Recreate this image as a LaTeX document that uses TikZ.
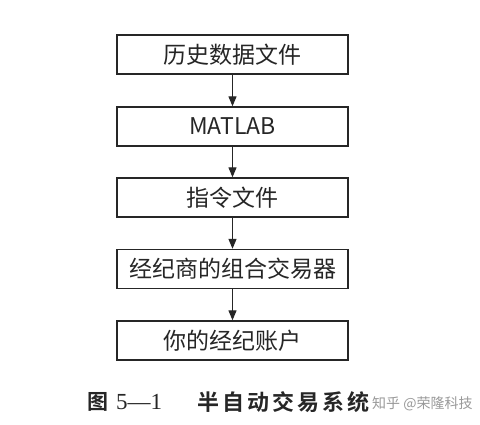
\documentclass[tikz,border=0pt]{standalone}
\usepackage{fontspec}
\usetikzlibrary{arrows.meta}
\newfontfamily\cjk{Noto Sans CJK SC}
\newfontfamily\cjkbold[LetterSpace=14]{Noto Sans CJK SC Bold}
\newfontfamily\cjkboldn{Noto Sans CJK SC Bold}
\newfontfamily\serifnum{Liberation Serif}
\begin{document}
\begin{tikzpicture}[x=1pt,y=-1pt,
  stepbox/.style={draw=black!85,line width=1.4pt,minimum width=231pt,minimum height=39pt,inner sep=0pt,font=\cjk\fontsize{23}{23}\selectfont,text=black!85},
  flow/.style={draw=black!85,line width=1.3pt,-{Triangle[width=8pt,length=10pt]}}]
\useasboundingbox (0,0) rectangle (480,424);
\fill[white] (0,0) rectangle (480,424);
\node[stepbox] (a) at (232.5,54.5) {历史数据文件};
\node[stepbox] (b) at (232.5,126.5) {MATLAB};
\node[stepbox] (c) at (232.5,197.5) {指令文件};
\node[stepbox] (d) at (232.5,269) {经纪商的组合交易器};
\node[stepbox] (e) at (232.5,340.5) {你的经纪账户};
\draw[flow] (a) -- (b);
\draw[flow] (b) -- (c);
\draw[flow] (c) -- (d);
\draw[flow] (d) -- (e);
\node[anchor=west,inner sep=0pt,font=\cjkboldn\fontsize{21}{21}\selectfont,text=black!85] (fig) at (87,402) {图};
\node[anchor=west,inner sep=0pt,font=\serifnum\fontsize{23}{23}\selectfont,text=black!85] (num) at (116,402) {5—1};
\node[anchor=west,inner sep=0pt,font=\cjkbold\fontsize{22}{22}\selectfont,text=black!85] (cap) at (197,402) {半自动交易系统};
\node[anchor=west,inner sep=0pt,font=\cjk\fontsize{14}{14}\selectfont,text=black!40] (wm) at (372,404) {知乎 @荣隆科技};
\end{tikzpicture}
\end{document}
